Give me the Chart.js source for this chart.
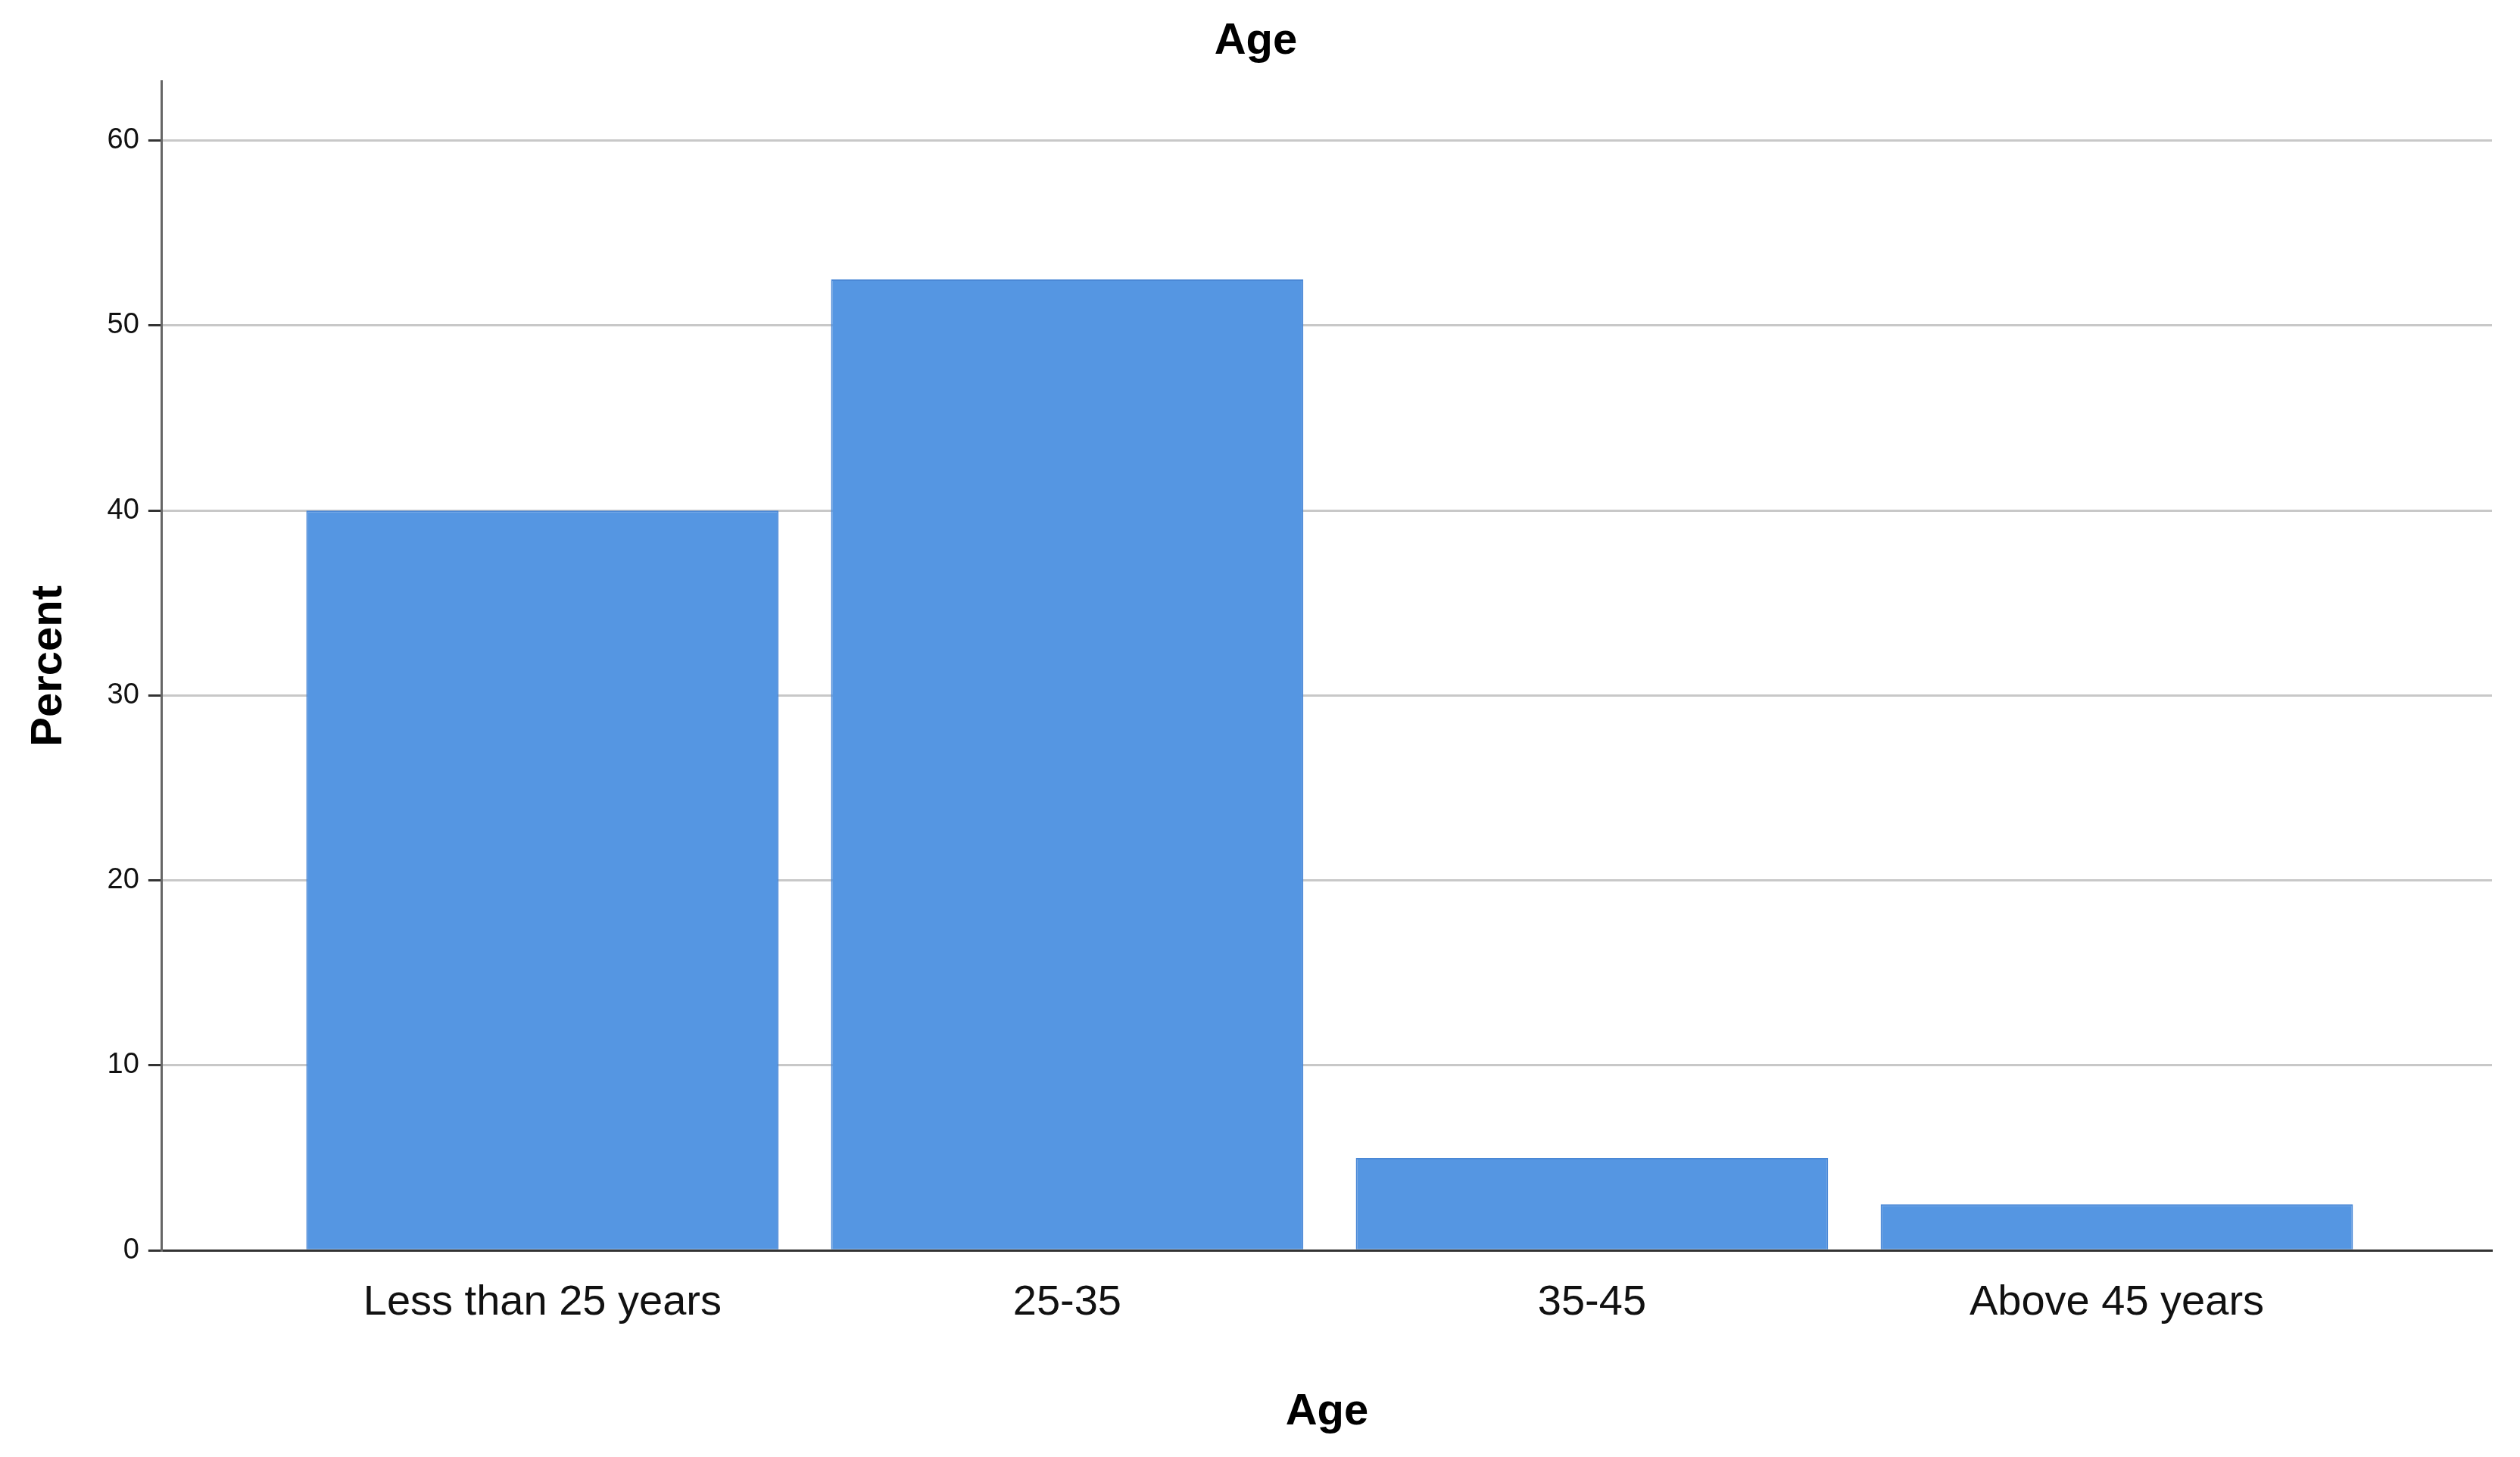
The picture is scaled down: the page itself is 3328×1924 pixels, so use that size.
<!DOCTYPE html>
<html><head><meta charset="utf-8">
<script src="https://cdn.jsdelivr.net/npm/chart.js@4"></script>
<style>body{margin:0;background:#fff}canvas{display:block}</style>
</head><body>
<canvas id="c" width="3328" height="1924"></canvas>
<script>
const categories = ["Less than 25 years", "25-35", "35-45", "Above 45 years"];
const percentValues = [40, 52.5, 5, 2.5];
const yTicks = [0, 10, 20, 30, 40, 50, 60];

new Chart(document.getElementById('c'), {
  type: 'bar',
  data: { datasets: [{ data: percentValues.map((v, i) => ({ x: i, y: v })), backgroundColor: '#5596e2', borderColor: '#4a88d6', borderWidth: 2, categoryPercentage: 0.9, barPercentage: 1 }] },
  options: {
    responsive: false, animation: false, devicePixelRatio: 1,
    layout: { padding: { left: 26, right: 37, top: 10, bottom: 20 } },
    plugins: {
      legend: { display: false }, tooltip: { enabled: false },
      title: { display: true, text: 'Age', color: '#000', font: { family: 'Liberation Sans', size: 58, weight: 'bold' }, padding: { top: 10, bottom: 18 } }
    },
    scales: {
      x: {
        type: 'linear', min: -0.725, max: 3.715, offset: false,
        afterBuildTicks: a => { a.ticks = categories.map((c, i) => ({ value: i })); },
        grid: { display: false, drawTicks: false },
        border: { color: '#333', width: 3 },
        ticks: { color: '#111', font: { family: 'Liberation Sans', size: 56 }, padding: 36, callback: v => categories[v] },
        title: { display: true, text: 'Age', color: '#000', font: { family: 'Liberation Sans', size: 58, weight: 'bold' }, padding: { top: 40 } }
      },
      y: {
        min: 0, max: 63.2,
        afterBuildTicks: a => { a.ticks = yTicks.map(v => ({ value: v })); },
        grid: { color: '#c8c8c8', lineWidth: 3, drawTicks: true, tickLength: 18, tickColor: '#333' },
        border: { color: '#666', width: 3 },
        ticks: { color: '#111', font: { family: 'Liberation Sans', size: 38 }, padding: 12 },
        title: { display: true, text: 'Percent', color: '#000', font: { family: 'Liberation Sans', size: 58, weight: 'bold' }, padding: { bottom: 30 } }
      }
    }
  }
});
</script>
</body></html>
